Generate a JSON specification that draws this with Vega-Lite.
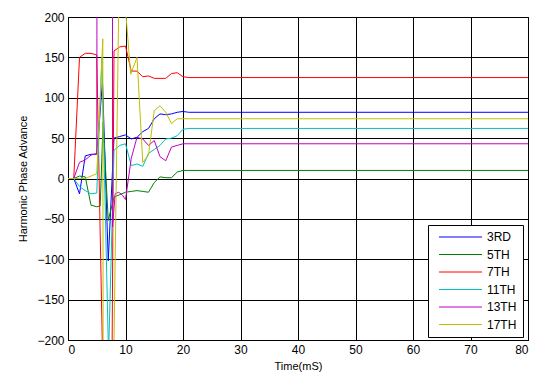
{
  "$schema": "https://vega.github.io/schema/vega-lite/v6.json",
  "autosize": "none",
  "width": 460,
  "height": 323,
  "padding": {"left": 68, "top": 17, "right": 13, "bottom": 39},
  "background": "white",
  "config": {
    "font": "Liberation Sans",
    "view": {"stroke": "black", "strokeWidth": 1},
    "axis": {
      "gridColor": "black", "gridOpacity": 1, "gridWidth": 1,
      "domainColor": "black", "ticks": false, "tickSize": 0,
      "labelColor": "black", "labelFontSize": 12, "labelFont": "Liberation Sans",
      "titleColor": "black", "titleFontSize": 11, "titleFontWeight": "normal", "titleFont": "Liberation Sans"
    }
  },
  "data": {"values": [
    {"t":0,"s":"3RD","v":0},{"t":1,"s":"3RD","v":0},{"t":2,"s":"3RD","v":-19},{"t":3,"s":"3RD","v":28},{"t":4,"s":"3RD","v":30},{"t":5,"s":"3RD","v":30},{"t":6,"s":"3RD","v":120},{"t":7,"s":"3RD","v":-102},{"t":8,"s":"3RD","v":50},{"t":9,"s":"3RD","v":52},{"t":10,"s":"3RD","v":54},{"t":11,"s":"3RD","v":49},{"t":12,"s":"3RD","v":51},{"t":13,"s":"3RD","v":58},{"t":14,"s":"3RD","v":62},{"t":15,"s":"3RD","v":74},{"t":16,"s":"3RD","v":80},{"t":17,"s":"3RD","v":79},{"t":18,"s":"3RD","v":80},{"t":19,"s":"3RD","v":82},{"t":20,"s":"3RD","v":83},{"t":21,"s":"3RD","v":82},{"t":80,"s":"3RD","v":82},
    {"t":0,"s":"5TH","v":0},{"t":1,"s":"5TH","v":0},{"t":2,"s":"5TH","v":3},{"t":3,"s":"5TH","v":2},{"t":4,"s":"5TH","v":-33},{"t":5,"s":"5TH","v":-35},{"t":5.6,"s":"5TH","v":-34},{"t":6.1,"s":"5TH","v":70},{"t":7,"s":"5TH","v":-52},{"t":8,"s":"5TH","v":-23},{"t":9,"s":"5TH","v":-20},{"t":10,"s":"5TH","v":-17},{"t":11,"s":"5TH","v":-16},{"t":12,"s":"5TH","v":-15},{"t":13,"s":"5TH","v":-16},{"t":14,"s":"5TH","v":-17},{"t":15,"s":"5TH","v":-5},{"t":16,"s":"5TH","v":2},{"t":17,"s":"5TH","v":1},{"t":18,"s":"5TH","v":1},{"t":19,"s":"5TH","v":8},{"t":20,"s":"5TH","v":10},{"t":21,"s":"5TH","v":10},{"t":80,"s":"5TH","v":10},
    {"t":0,"s":"7TH","v":0},{"t":1,"s":"7TH","v":0},{"t":2,"s":"7TH","v":150},{"t":3,"s":"7TH","v":155},{"t":4,"s":"7TH","v":155},{"t":5,"s":"7TH","v":153},{"t":6.5,"s":"7TH","v":-400},{"t":7.5,"s":"7TH","v":-400},{"t":8,"s":"7TH","v":158},{"t":9,"s":"7TH","v":163},{"t":10,"s":"7TH","v":164},{"t":11,"s":"7TH","v":133},{"t":12,"s":"7TH","v":133},{"t":13,"s":"7TH","v":126},{"t":14,"s":"7TH","v":127},{"t":15,"s":"7TH","v":124},{"t":16,"s":"7TH","v":124},{"t":17,"s":"7TH","v":124},{"t":18,"s":"7TH","v":130},{"t":19,"s":"7TH","v":131},{"t":20,"s":"7TH","v":126},{"t":21,"s":"7TH","v":125},{"t":80,"s":"7TH","v":125},
    {"t":0,"s":"11TH","v":0},{"t":1,"s":"11TH","v":0},{"t":2,"s":"11TH","v":-10},{"t":3,"s":"11TH","v":-15},{"t":4,"s":"11TH","v":-19},{"t":5,"s":"11TH","v":-18},{"t":5.9,"s":"11TH","v":150},{"t":7.05,"s":"11TH","v":-220},{"t":8,"s":"11TH","v":35},{"t":9,"s":"11TH","v":41},{"t":10,"s":"11TH","v":43},{"t":11,"s":"11TH","v":16},{"t":12,"s":"11TH","v":18},{"t":13,"s":"11TH","v":15},{"t":14,"s":"11TH","v":31},{"t":15,"s":"11TH","v":36},{"t":16,"s":"11TH","v":41},{"t":17,"s":"11TH","v":49},{"t":18,"s":"11TH","v":50},{"t":19,"s":"11TH","v":53},{"t":20,"s":"11TH","v":61},{"t":21,"s":"11TH","v":62},{"t":80,"s":"11TH","v":62},
    {"t":0,"s":"13TH","v":0},{"t":1,"s":"13TH","v":0},{"t":2,"s":"13TH","v":20},{"t":3,"s":"13TH","v":23},{"t":4,"s":"13TH","v":29},{"t":5,"s":"13TH","v":31},{"t":5.6,"s":"13TH","v":3000},{"t":7.6,"s":"13TH","v":3000},{"t":7.75,"s":"13TH","v":-60},{"t":8.2,"s":"13TH","v":-19},{"t":8.8,"s":"13TH","v":-17},{"t":9.4,"s":"13TH","v":-20},{"t":10,"s":"13TH","v":-26},{"t":11,"s":"13TH","v":25},{"t":12,"s":"13TH","v":51},{"t":13,"s":"13TH","v":49},{"t":14,"s":"13TH","v":41},{"t":15,"s":"13TH","v":47},{"t":16,"s":"13TH","v":27},{"t":17,"s":"13TH","v":22},{"t":18,"s":"13TH","v":39},{"t":19,"s":"13TH","v":41},{"t":20,"s":"13TH","v":43},{"t":21,"s":"13TH","v":43},{"t":80,"s":"13TH","v":43},
    {"t":0,"s":"17TH","v":0},{"t":1,"s":"17TH","v":0},{"t":2,"s":"17TH","v":0},{"t":3,"s":"17TH","v":0},{"t":4,"s":"17TH","v":3},{"t":5,"s":"17TH","v":6},{"t":6.05,"s":"17TH","v":173},{"t":6.2,"s":"17TH","v":-800},{"t":7.6,"s":"17TH","v":-400},{"t":9.2,"s":"17TH","v":400},{"t":10,"s":"17TH","v":210},{"t":10.9,"s":"17TH","v":129},{"t":12,"s":"17TH","v":150},{"t":13,"s":"17TH","v":20},{"t":14,"s":"17TH","v":29},{"t":15,"s":"17TH","v":84},{"t":16,"s":"17TH","v":90},{"t":17,"s":"17TH","v":82},{"t":18,"s":"17TH","v":68},{"t":19,"s":"17TH","v":74},{"t":20,"s":"17TH","v":74},{"t":21,"s":"17TH","v":74},{"t":80,"s":"17TH","v":74}
  ]},
  "mark": {"type": "line", "clip": true, "strokeWidth": 1},
  "encoding": {
    "x": {"field": "t", "type": "quantitative", "title": "Time(mS)",
      "scale": {"domain": [0, 80], "nice": false, "zero": false},
      "axis": {"values": [0,10,20,30,40,50,60,70,80], "grid": true, "titlePadding": 5, "labelPadding": 4}},
    "y": {"field": "v", "type": "quantitative", "title": "Harmonic Phase Advance",
      "scale": {"domain": [-200, 200], "nice": false},
      "axis": {"values": [-200,-150,-100,-50,0,50,100,150,200], "grid": true, "titlePadding": 8, "labelPadding": 4}},
    "color": {"field": "s", "type": "nominal",
      "scale": {"domain": ["3RD","5TH","7TH","11TH","13TH","17TH"],
                "range": ["#0000ff","#008000","#ff0000","#00c0c0","#c000c0","#c0c000"]},
      "legend": {"title": null, "orient": "none", "legendX": 360, "legendY": 208,
        "symbolType": "M-0.2,0H8.4", "symbolSize": 100, "symbolStrokeWidth": 1,
        "labelFontSize": 12, "labelColor": "black", "labelFont": "Liberation Sans",
        "labelExpr": "datum.label + '    '",
        "strokeColor": "black", "fillColor": "white", "padding": 6, "rowPadding": 5.5,
        "labelOffset": 41}},
    "order": {"field": "t", "type": "quantitative"}
  }
}
